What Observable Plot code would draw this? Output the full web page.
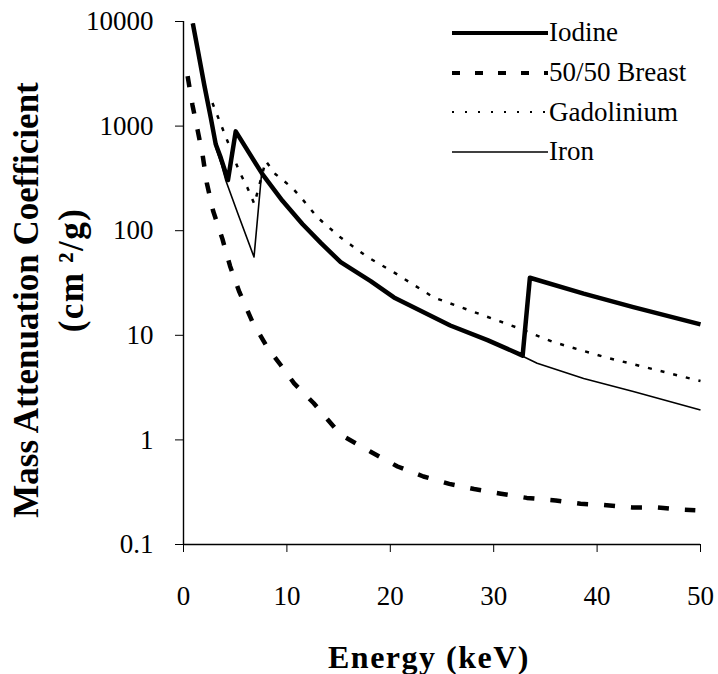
<!DOCTYPE html>
<html><head><meta charset="utf-8">
<script src="https://cdn.jsdelivr.net/npm/d3@7"></script>
<script src="https://cdn.jsdelivr.net/npm/@observablehq/plot@0.6"></script>
<style>
body{margin:0;background:#fff;}
#wrap{position:relative;width:718px;height:674px;font-family:"Liberation Serif","Times New Roman",serif;color:#000;}
#legend{position:absolute;left:452px;top:13px;}
.row{display:flex;align-items:center;height:39.7px;}
.row span{font-size:27px;margin-left:1px;line-height:1;}
</style></head><body><div id="wrap"></div>
<script>
// ---- data (energy in keV, mass attenuation coefficient in cm^2/g) ----
const seriesNames = ["Iodine", "50/50 Breast", "Gadolinium", "Iron"];

const iodineEnergy = [0.9, 1.35, 2.0, 2.64, 3.12, 3.6, 4.3, 5.05, 7.63, 9.57, 11.5, 13.3, 15.2, 18.1, 20.35, 25.8, 29.4, 32.8, 33.5, 38.7, 43.5, 50];
const iodineValue  = [9600, 5570, 2500, 1200, 670, 500, 305, 890, 347, 193, 116, 76, 50, 33, 23, 12.4, 9.0, 6.4, 35.5, 25, 18.6, 12.7];

const breastEnergy = [0.4, 0.87, 1.35, 1.84, 2.25, 2.86, 3.77, 4.5, 5.4, 6.67, 8.1, 9.4, 10.7, 12.6, 15.2, 18.1, 20.7, 23.2, 25.7, 28.1, 30.7, 33.2, 36.0, 38.4, 40.6, 43.4, 45.8, 48.2, 49.5];
const breastValue  = [3000, 1585, 930, 535, 288, 155, 83, 46, 26, 13.4, 7.7, 5.2, 3.47, 2.24, 1.12, 0.77, 0.557, 0.447, 0.38, 0.339, 0.306, 0.279, 0.264, 0.245, 0.239, 0.226, 0.226, 0.215, 0.212];

const gadoEnergy = [2.8, 4.25, 5.37, 6.18, 6.85, 7.95, 8.9, 10.5, 11.5, 12.95, 15.2, 17.8, 20.35, 24.2, 28.1, 32.1, 35.8, 40.7, 44.5, 50];
const gadoValue  = [1660, 720, 373, 258, 180, 464, 347, 258, 200, 134, 86, 56, 40, 23, 16.7, 12, 8.6, 6.2, 5.0, 3.65];

const ironEnergy = [0.9, 1.35, 2.0, 2.64, 3.12, 3.7, 4.1, 5.2, 6.82, 7.55, 9.57, 11.5, 13.3, 15.2, 18.1, 20.35, 25.8, 29.4, 32.8, 34.2, 38.7, 43.5, 50];
const ironValue  = [9600, 5570, 2500, 1200, 620, 420, 300, 151, 56, 350, 193, 116, 76, 50, 33, 23, 12.4, 9.0, 6.3, 5.4, 3.87, 2.9, 1.93];

const xTicks = [0, 10, 20, 30, 40, 50];
const yTicks = [0.1, 1, 10, 100, 1000, 10000];

// ---- build table ----
function rows(name, es, vs) { return es.map((e, i) => ({series: name, energy: e, value: vs[i]})); }
const data = [
  ...rows(seriesNames[0], iodineEnergy, iodineValue),
  ...rows(seriesNames[1], breastEnergy, breastValue),
  ...rows(seriesNames[2], gadoEnergy, gadoValue),
  ...rows(seriesNames[3], ironEnergy, ironValue)
];

const styles = {
  "Iodine":       {strokeWidth: 4.5, dash: null,    legendWidth: 4,   legendDash: null},
  "50/50 Breast": {strokeWidth: 4.5, dash: "11,16", legendWidth: 4,   legendDash: "8,15"},
  "Gadolinium":   {strokeWidth: 2.5, dash: "4,9",   legendWidth: 2,   legendDash: "2,11"},
  "Iron":         {strokeWidth: 1.6, dash: null,    legendWidth: 1.6, legendDash: null}
};
const drawOrder = ["50/50 Breast", "Gadolinium", "Iron", "Iodine"];

const font = "Liberation Serif, Times New Roman, serif";

const chart = Plot.plot({
  width: 718,
  height: 674,
  marginLeft: 183,
  marginRight: 18,
  marginTop: 21,
  marginBottom: 130,
  style: {fontFamily: font, fontSize: "27px", color: "#000", background: "#fff"},
  x: {domain: [0, 50]},
  y: {type: "log", domain: [0.1, 10000]},
  marks: [
    Plot.axisY({ticks: yTicks, tickFormat: d => String(d), tickSize: 8, tickPadding: 22, fontSize: 27, label: null}),
    Plot.axisX({ticks: xTicks, tickFormat: d => String(d), tickSize: 8, tickPadding: 33, fontSize: 27, label: null}),
    Plot.ruleX([0], {stroke: "#000", strokeWidth: 1.4}),
    Plot.ruleY([0.1], {stroke: "#000", strokeWidth: 1.4}),
    ...drawOrder.map(name => Plot.line(data.filter(d => d.series === name), {
      x: "energy", y: "value", stroke: "#000",
      strokeWidth: styles[name].strokeWidth,
      strokeDasharray: styles[name].dash || undefined,
      strokeLinejoin: "round", strokeLinecap: "butt"
    })),
    Plot.text(["Energy (keV)"], {text: d => d, frameAnchor: "bottom", textAnchor: "middle", lineAnchor: "middle", dx: -13, dy: 113, fontSize: 32, fontWeight: "bold", fill: "#000"}),
    Plot.text(["Mass Attenuation Coefficient"], {text: d => d, frameAnchor: "left", textAnchor: "middle", lineAnchor: "middle", rotate: -90, dx: -157, dy: 17, fontSize: 35, fontWeight: "bold", fill: "#000"}),
    Plot.text(["(cm\u2009\u00b2/g)"], {text: d => d, frameAnchor: "left", textAnchor: "middle", lineAnchor: "middle", rotate: -90, dx: -112, dy: -13, fontSize: 35, fontWeight: "bold", fill: "#000"})
  ]
});

const wrap = document.getElementById("wrap");
wrap.appendChild(chart);

// slightly looser letter spacing for the bold axis titles, as in the reference
d3.select(chart).selectAll("text").filter(function() {
  const t = this.textContent;
  return t === "Energy (keV)" || t === "(cm\u2009\u00b2/g)";
}).style("letter-spacing", "1.5px");

// ---- legend overlay ----
const legend = document.createElement("div");
legend.id = "legend";
seriesNames.forEach(name => {
  const row = document.createElement("div");
  row.className = "row";
  const s = styles[name];
  row.innerHTML = `<svg width="96" height="14"><line x1="0" x2="96" y1="7" y2="7" stroke="#000" stroke-width="${s.legendWidth}" ${s.legendDash ? `stroke-dasharray="${s.legendDash}"` : ""}/></svg><span>${name}</span>`;
  legend.appendChild(row);
});
wrap.appendChild(legend);
</script></body></html>
